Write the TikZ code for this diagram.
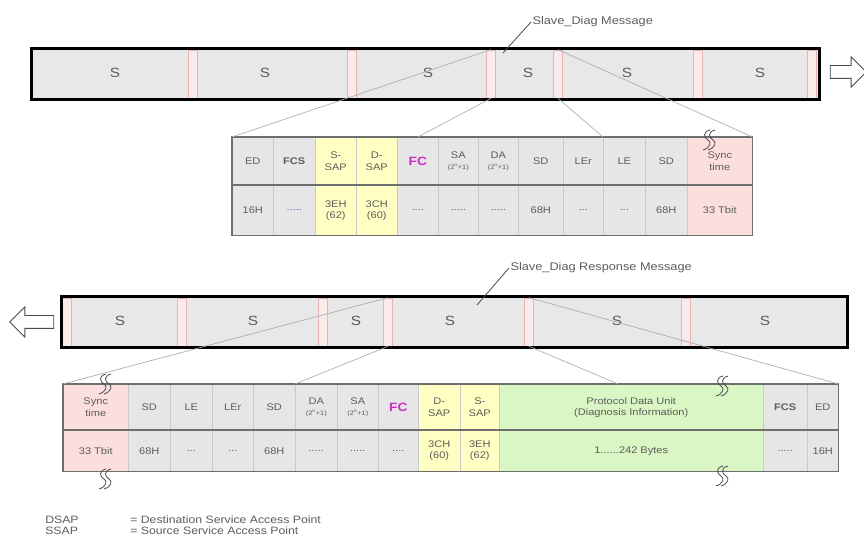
\documentclass[tikz,border=0pt]{standalone}
\usepackage{fontspec}
\setmainfont{Liberation Sans}[FakeStretch=1.15]
\usetikzlibrary{positioning, shapes.arrows, calc}
\definecolor{grisTexto}{HTML}{5C5C5C}
\definecolor{grisOscuro}{HTML}{4A4A4A}
\definecolor{grisCelda}{HTML}{E6E6E6}
\definecolor{grisBarra}{HTML}{E8E8E8}
\definecolor{grisLinea}{HTML}{C9C9C9}
\definecolor{grisMarco}{HTML}{6E6E6E}
\definecolor{rosaSep}{HTML}{FAEAEA}
\definecolor{rosaBorde}{HTML}{E6B4B4}
\definecolor{rosaSync}{HTML}{FBDFDF}
\definecolor{amarilloSAP}{HTML}{FFFFC4}
\definecolor{verdePDU}{HTML}{D9F6C4}
\definecolor{magentaFC}{HTML}{C930C2}
\definecolor{azulFCS}{HTML}{5565CC}
\newcommand{\potencia}{{\fontsize{4.8}{5.5}\selectfont(2\textsuperscript{n}+1)}}
\newcommand{\ptsTres}{.{}.{}.}
\newcommand{\ptsCuatro}{.{}.{}.{}.}
\newcommand{\ptsCinco}{.{}.{}.{}.{}.}
\newcommand{\bytesPDU}{1.{}.{}.{}.{}.{}.242 Bytes}
\newcommand{\quiebre}[2]{%
  \foreach \dd in {0,5}{%
    \draw[lineaQuiebre] (#1+\dd+3,#2-10) .. controls (#1+\dd-5,#2-8) and (#1+\dd-3,#2-2) .. (#1+\dd+1,#2)
      .. controls (#1+\dd+5,#2+2) and (#1+\dd+3,#2+8) .. (#1+\dd-4,#2+10);}}
\tikzset{
  barraFondo/.style={fill=grisBarra, inner sep=0pt, minimum height=37.5pt},
  bordeBarra/.style={draw=black, line width=2pt},
  separador/.style={fill=rosaSep, draw=rosaBorde, line width=.5pt, inner sep=0pt,
    minimum width=6.5pt, minimum height=36pt},
  etiquetaS/.style={font=\fontsize{10}{12}\selectfont, text=grisTexto},
  celda/.style={draw=grisLinea, fill=grisCelda, anchor=north west, inner sep=0pt,
    align=center, font=\fontsize{7.2}{8.4}\selectfont, text=grisTexto},
  celdaSAP/.style={celda, fill=amarilloSAP},
  celdaSync/.style={celda, fill=rosaSync},
  celdaPDU/.style={celda, fill=verdePDU},
  marco/.style={draw=grisMarco, line width=.8pt},
  abanico/.style={draw=gray!65, line width=.5pt},
  guia/.style={draw=grisOscuro, line width=.6pt},
  etiqueta/.style={font=\fontsize{8.3}{10}\selectfont, text=grisTexto, inner sep=1pt},
  leyenda/.style={font=\fontsize{8}{9.6}\selectfont, text=grisTexto, inner sep=0pt, anchor=west},
  flechaHueca/.style={single arrow, draw=gray!60!black, fill=white, line width=.6pt,
    inner xsep=0pt, inner ysep=4.5pt, minimum height=27pt, single arrow head extend=6.5pt},
  lineaQuiebre/.style={draw=grisOscuro, line width=.6pt},
}
\begin{document}
\begin{tikzpicture}[x=.75pt, y=-.75pt]
    \useasboundingbox (0,0) rectangle (864,541);

    \node[barraFondo, minimum width=590.25pt] (barra1) at (425.5,74) {};
    \foreach \x [count=\i] in {193,352,491,558,698,812}
      \node[separador] (b1s\i) at (\x,74) {};
    \foreach \x [count=\i] in {115,265,428,528,627,760}
      \node[etiquetaS] (s1\i) at (\x,73) {S};
    \draw[bordeBarra] (barra1.north west) rectangle (barra1.south east);
    \node[flechaHueca] (flecha1) at (845,72) {};

    \node[etiqueta, anchor=west] (msj1) at (531,22) {Slave\_Diag Message};
    \coordinate (p1) at (503,53);
    \draw[guia] (msj1.west) -- (p1);

    \foreach \x/\w/\cab/\val/\est [count=\i] in {
        232/41/ED/16H/celda,
        273/42/{\bfseries FCS}/{\color{azulFCS}\ptsCinco}/celda,
        315/41/S-\\SAP/3EH\\(62)/celdaSAP,
        356/41/D-\\SAP/3CH\\(60)/celdaSAP,
        397/41/{\color{magentaFC}\bfseries\fontsize{9}{10}\selectfont FC}/\ptsCuatro/celda,
        438/40/SA\\\potencia/\ptsCinco/celda,
        478/40/DA\\\potencia/\ptsCinco/celda,
        518/45/SD/68H/celda,
        563/40/LEr/\ptsTres/celda,
        603/42/LE/\ptsTres/celda,
        645/42/SD/68H/celda,
        687/65/Sync\\time/33 Tbit/celdaSync}
    {
      \node[\est, minimum width=\w*.75pt, minimum height=36pt] (m1c\i) at (\x,137) {\cab};
      \node[\est, minimum width=\w*.75pt, minimum height=37.5pt] (m1v\i) at (\x,185) {\val};
    }
    \draw[marco] (m1c1.north west) rectangle (m1v12.south east);
    \draw[marco] (m1v1.north west) -- (m1v12.north east);
    \quiebre{707}{140}

    \draw[abanico] (b1s3.north) -- (m1c1.north west);
    \draw[abanico] (b1s3.south) -- (m1c5.north);
    \draw[abanico] (b1s4.south) -- (m1c10.north west);
    \draw[abanico] (b1s4.north) -- (m1c12.north east);

    \node[barraFondo, minimum width=588.75pt] (barra2) at (454.5,322) {};
    \foreach \x [count=\i] in {67,182,323,388,529,686}
      \node[separador] (b2s\i) at (\x,322) {};
    \foreach \x [count=\i] in {120,253,356,450,617,765}
      \node[etiquetaS] (s2\i) at (\x,321) {S};
    \draw[bordeBarra] (barra2.north west) rectangle (barra2.south east);
    \node[flechaHueca, shape border rotate=180, minimum height=33pt] (flecha2) at (35,322) {};

    \node[etiqueta, anchor=west] (msj2) at (509,268) {Slave\_Diag Response Message};
    \coordinate (p2) at (477,305);
    \draw[guia] (msj2.west) -- (p2);

    \foreach \x/\w/\cab/\val/\est [count=\i] in {
        63/65/Sync\\time/33 Tbit/celdaSync,
        128/42/SD/68H/celda,
        170/42/LE/\ptsTres/celda,
        212/41/LEr/\ptsTres/celda,
        253/42/SD/68H/celda,
        295/42/DA\\\potencia/\ptsCinco/celda,
        337/41/SA\\\potencia/\ptsCinco/celda,
        378/40/{\color{magentaFC}\bfseries\fontsize{9}{10}\selectfont FC}/\ptsCuatro/celda,
        418/42/D-\\SAP/3CH\\(60)/celdaSAP,
        460/39/S-\\SAP/3EH\\(62)/celdaSAP,
        499/264/Protocol Data Unit\\(Diagnosis Information)/\bytesPDU/celdaPDU,
        763/44/{\bfseries FCS}/\ptsCinco/celda,
        807/31/ED/16H/celda}
    {
      \node[\est, minimum width=\w*.75pt, minimum height=34.5pt] (m2c\i) at (\x,384) {\cab};
      \node[\est, minimum width=\w*.75pt, minimum height=30.75pt] (m2v\i) at (\x,430) {\val};
    }
    \draw[marco] (m2c1.north west) rectangle (m2v13.south east);
    \draw[marco] (m2v1.north west) -- (m2v13.north east);
    \quiebre{103}{384}
    \quiebre{103}{479}
    \quiebre{720}{386}
    \quiebre{720}{476}

    \coordinate (p3) at ($(m2c11.north west)!.45!(m2c11.north east)$);
    \draw[abanico] (b2s4.north) -- (m2c1.north west);
    \draw[abanico] (b2s4.south) -- (m2c6.north west);
    \draw[abanico] (b2s5.south) -- (p3);
    \draw[abanico] (b2s5.north) -- (m2c13.north east);

    \node[leyenda] (dsap) at (45,520) {DSAP};
    \node[leyenda] (dsapTxt) at (130,520) {= Destination Service Access Point};
    \node[leyenda] (ssap) at (45,531) {SSAP};
    \node[leyenda] (ssapTxt) at (130,531) {= Source Service Access Point};
  \end{tikzpicture}
\end{document}
